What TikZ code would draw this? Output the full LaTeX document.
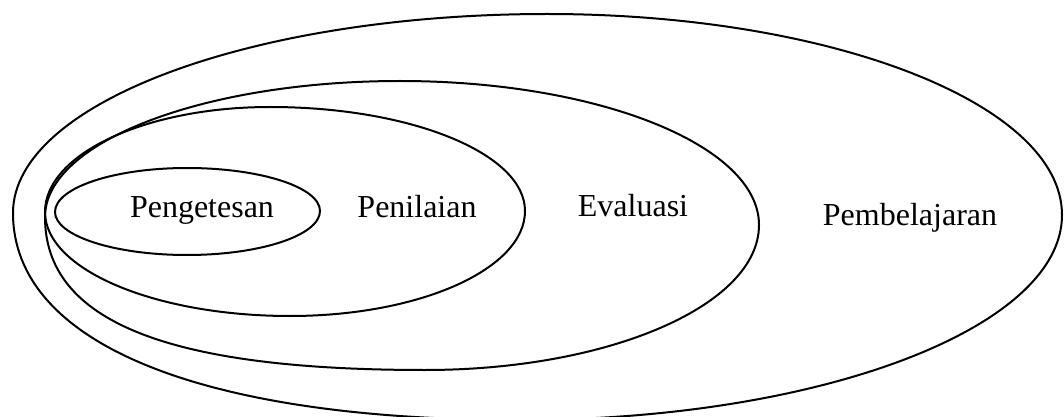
\documentclass[tikz,border=0pt]{standalone}
\usepackage{fontspec}
\setmainfont{Liberation Serif}
\usepackage{tikz}
\usetikzlibrary{calc}
\tikzset{
  ring/.style={draw=black, line width=1.5pt},
  lab/.style={text=black, inner sep=0pt, anchor=base, font=\fontsize{24}{28}\selectfont}
}
% closed oval through left, top, right and bottom points; #1 = fullness of lower left quarter
\newcommand{\setoval}[5][0.5523]{%
  \draw[ring] (#2)
    .. controls ($(#2)!0.5523!(#2|-#3)$) and ($(#3)!0.5523!(#2|-#3)$) .. (#3)
    .. controls ($(#3)!0.5523!(#4|-#3)$) and ($(#4)!0.5523!(#4|-#3)$) .. (#4)
    .. controls ($(#4)!0.5523!(#4|-#5)$) and ($(#5)!0.5523!(#4|-#5)$) .. (#5)
    .. controls ($(#5)!#1!(#2|-#5)$) and ($(#2)!#1!(#2|-#5)$) .. (#2);}
\begin{document}
\begin{tikzpicture}[x=0.75pt, y=-0.75pt]
  \useasboundingbox (0,0) rectangle (1064,417);

  % Pembelajaran
  \coordinate (pbL) at (13,213);
  \coordinate (pbT) at (547,14);
  \coordinate (pbR) at (1062,215);
  \coordinate (pbB) at (520,420);
  % Evaluasi
  \coordinate (evL) at (45,217);
  \coordinate (evT) at (400,81);
  \coordinate (evR) at (759,225);
  \coordinate (evB) at (425,370);
  % Penilaian
  \coordinate (pnL) at (45,212);
  \coordinate (pnT) at (270,107);
  \coordinate (pnR) at (525,211);
  \coordinate (pnB) at (290,316);
  % Pengetesan
  \coordinate (ptL) at (55,212);
  \coordinate (ptT) at (187,168);
  \coordinate (ptR) at (320,211);
  \coordinate (ptB) at (187,255);

  \setoval[0.63]{pbL}{pbT}{pbR}{pbB}
  \setoval[0.68]{evL}{evT}{evR}{evB}
  \setoval{pnL}{pnT}{pnR}{pnB}
  \setoval{ptL}{ptT}{ptR}{ptB}

  \node[lab] (peng) at (202,218) {Pengetesan};
  \node[lab] (peni) at (417,218) {Penilaian};
  \node[lab] (eval) at (633,217) {Evaluasi};
  \node[lab] (pemb) at (910,225) {Pembelajaran};
\end{tikzpicture}
\end{document}
